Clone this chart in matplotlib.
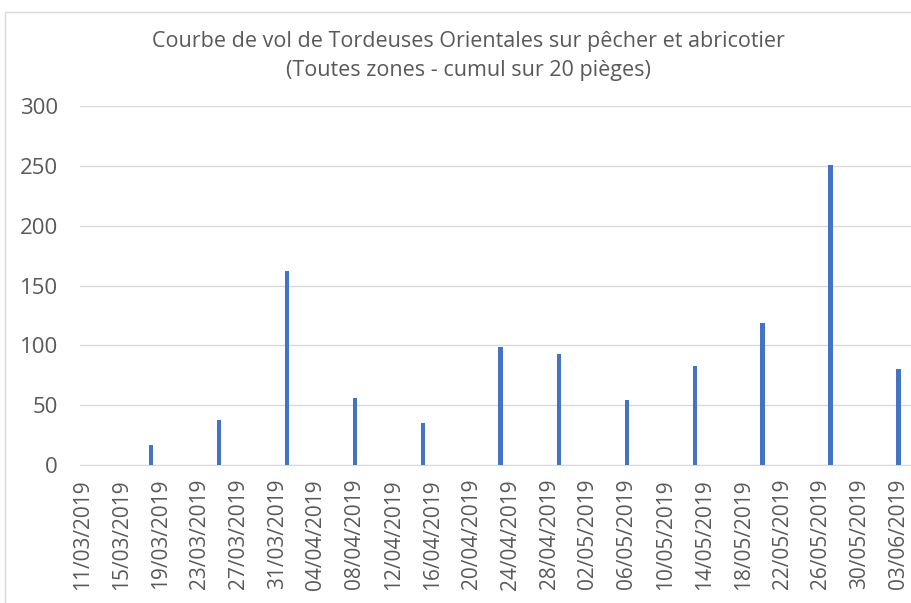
import datetime as dt

import matplotlib
matplotlib.use('Agg')
import matplotlib.dates as mdates
import matplotlib.pyplot as plt
from matplotlib.patches import Rectangle

# captures hebdomadaires (cumul sur 20 pièges)
dates = ['18/03/2019', '25/03/2019', '01/04/2019', '08/04/2019', '15/04/2019', '23/04/2019',
         '29/04/2019', '06/05/2019', '13/05/2019', '20/05/2019', '27/05/2019', '03/06/2019']
captures = [17, 38, 162, 56, 35, 99, 93, 54, 83, 119, 251, 80]
yticks = [0, 50, 100, 150, 200, 250, 300]
first_tick = '11/03/2019'
last_tick = '03/06/2019'

title = 'Courbe de vol de Tordeuses Orientales sur pêcher et abricotier\n(Toutes zones - cumul sur 20 pièges)'

plt.rcParams['font.family'] = ['Open Sans', 'DejaVu Sans']
text_grey = '#595959'


def parse(d):
    return dt.datetime.strptime(d, '%d/%m/%Y')


x = mdates.date2num([parse(d) for d in dates])
start = mdates.date2num(parse(first_tick))
end = mdates.date2num(parse(last_tick))

fig = plt.figure(figsize=(9.12, 6.03), dpi=100)
ax = fig.add_axes([80 / 912, 1 - 465 / 603, 1 - 80 / 912, (465 - 106) / 603])

ax.bar(x, captures, width=0.45, color='#4472C4', zorder=3)

ax.set_ylim(0, 300)
ax.set_yticks(yticks)
ax.set_xlim(start - 0.3, start + (912 - 83) / 9.71)
ticks = [start + 4 * i for i in range(int((end - start) // 4) + 1)]
ax.set_xticks(ticks)
ax.xaxis.set_major_formatter(mdates.DateFormatter('%d/%m/%Y'))
plt.setp(ax.get_xticklabels(), rotation=90, va='top', ha='center')

ax.grid(axis='y', color='#D9D9D9', linewidth=1, zorder=0)
for side in ('top', 'right', 'left'):
    ax.spines[side].set_visible(False)
ax.spines['bottom'].set_color('#D9D9D9')
ax.tick_params(axis='both', length=0, labelsize=15, colors=text_grey)
ax.tick_params(axis='y', labelsize=16, pad=16)
ax.tick_params(axis='x', pad=10)

fig.text(468 / 912, 1 - 56 / 603, title, ha='center', va='center', fontsize=15.5,
         color=text_grey, linespacing=1.45)

fig.patches.append(Rectangle((5 / 912, -0.1), 1.1, 1 - 12 / 603 + 0.1, transform=fig.transFigure,
                             fill=False, edgecolor='#D9D9D9', linewidth=1))

fig.savefig('out.png', dpi=100)
